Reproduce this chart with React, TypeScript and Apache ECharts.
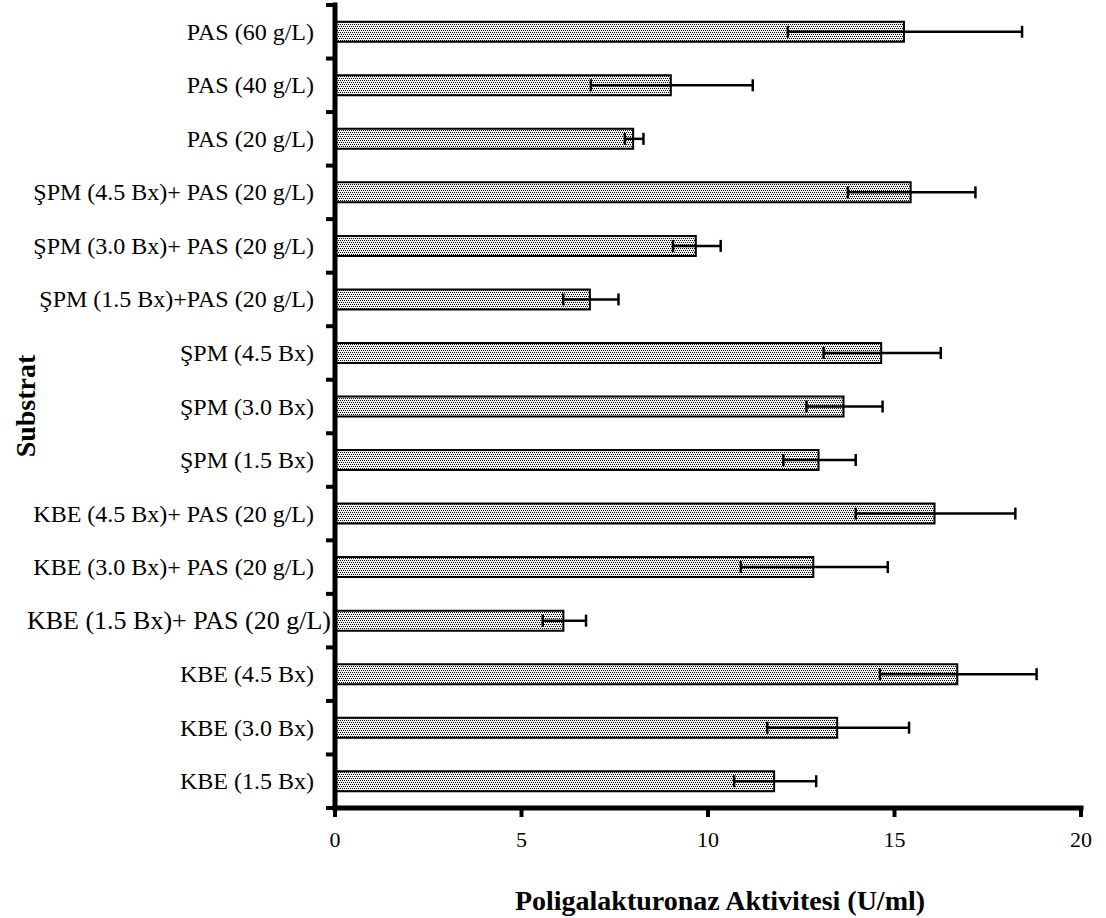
import React, { useEffect, useRef } from "react";
import * as echarts from "echarts";

// Substrate groups, listed bottom to top as drawn on the category axis
const categories = [
  "KBE (1.5 Bx)",
  "KBE (3.0 Bx)",
  "KBE (4.5 Bx)",
  "KBE (1.5 Bx)+ PAS (20 g/L)",
  "KBE (3.0 Bx)+ PAS (20 g/L)",
  "KBE (4.5 Bx)+ PAS (20 g/L)",
  "ŞPM (1.5 Bx)",
  "ŞPM (3.0 Bx)",
  "ŞPM (4.5 Bx)",
  "ŞPM (1.5 Bx)+PAS (20 g/L)",
  "ŞPM (3.0 Bx)+ PAS (20 g/L)",
  "ŞPM (4.5 Bx)+ PAS (20 g/L)",
  "PAS (20 g/L)",
  "PAS (40 g/L)",
  "PAS (60 g/L)",
];

// Mean polygalacturonase activity (U/ml)
const activity = [
  11.8, 13.49, 16.71, 6.15, 12.85, 16.1, 12.99, 13.66, 14.67, 6.86, 9.7, 15.46,
  8.02, 9.03, 15.28,
];

// Standard deviation of each mean
const deviation = [
  1.1, 1.9, 2.1, 0.58, 1.97, 2.14, 0.97, 1.02, 1.57, 0.74, 0.64, 1.71, 0.25,
  2.17, 3.14,
];

const xTicks = { min: 0, max: 20, interval: 5 };

const WIDE_LABEL = "KBE (1.5 Bx)+ PAS (20 g/L)";
const SERIF = "'Liberation Serif', 'Times New Roman', serif";

function makeDotPattern(): HTMLCanvasElement {
  const c = document.createElement("canvas");
  c.width = 4;
  c.height = 4;
  const ctx = c.getContext("2d")!;
  ctx.fillStyle = "#f2f2f2";
  ctx.fillRect(0, 0, 4, 4);
  ctx.fillStyle = "#000000";
  ctx.fillRect(0, 0, 1, 1);
  ctx.fillRect(2, 0, 1, 1);
  ctx.fillRect(1, 2, 1, 1);
  ctx.fillRect(3, 2, 1, 1);
  return c;
}

const AXIS_W = 5;
const TICK_W = 4;
const TICK_LEN = 9;

export default function App() {
  const ref = useRef<HTMLDivElement>(null);

  useEffect(() => {
    if (!ref.current) return;
    const chart = echarts.init(ref.current, undefined, { renderer: "svg" });

    const barData = activity.map((v) => v);
    const errData = activity.map((v, i) => [i, v, deviation[i]]);

    const titleElements: any[] = [
      {
        id: "xTitle",
        type: "text",
        x: 720,
        y: 900,
        style: {
          text: "Poligalakturonaz Aktivitesi (U/ml)",
          fontFamily: SERIF,
          fontSize: 28,
          fontWeight: "bold",
          fill: "#000",
          align: "center",
          verticalAlign: "middle",
        },
      },
      {
        id: "yTitle",
        type: "text",
        x: 25,
        y: 406,
        rotation: Math.PI / 2,
        style: {
          text: "Substrat",
          fontFamily: SERIF,
          fontSize: 28,
          fontWeight: "bold",
          fill: "#000",
          align: "center",
          verticalAlign: "middle",
        },
      },
    ];

    const option: any = {
      animation: false,
      backgroundColor: "#ffffff",
      grid: { left: 335, right: 25, top: 5, bottom: 110, containLabel: false },
      xAxis: {
        type: "value",
        min: xTicks.min,
        max: xTicks.max,
        interval: xTicks.interval,
        axisLine: { show: false },
        axisTick: { show: false },
        splitLine: { show: false },
        axisLabel: {
          color: "#000",
          fontFamily: SERIF,
          fontSize: 22,
          margin: 20,
        },
      },
      yAxis: {
        type: "category",
        data: categories,
        axisLine: { show: false },
        axisTick: { show: false },
        splitLine: { show: false },
        axisLabel: {
          margin: 4,
          color: "#000",
          fontFamily: SERIF,
          fontSize: 24,
          formatter: (v: string) => (v === WIDE_LABEL ? `{w|${v}}` : `{n|${v}}`),
          rich: {
            n: { fontFamily: SERIF, fontSize: 24, color: "#000", padding: [0, 17, 0, 0] },
            w: { fontFamily: SERIF, fontSize: 26, color: "#000", padding: [0, 0, 0, 0] },
          },
        },
      },
      series: [
        {
          type: "bar",
          data: barData,
          barWidth: 22,
          itemStyle: {
            color: {
              image: makeDotPattern(),
              repeat: "repeat",
              imageWidth: 4,
              imageHeight: 4,
            },
            borderColor: "#000",
            borderWidth: 2,
          },
          z: 2,
        },
        {
          type: "custom",
          data: errData,
          z: 5,
          renderItem: (_params: any, api: any) => {
            const idx = api.value(0);
            const mean = api.value(1);
            const sd = api.value(2);
            const lo = api.coord([mean - sd, idx]);
            const hi = api.coord([mean + sd, idx]);
            const y = lo[1];
            const half = 6;
            const style = { stroke: "#000", lineWidth: 2.5 };
            return {
              type: "group",
              children: [
                { type: "line", shape: { x1: lo[0], y1: y, x2: hi[0], y2: y }, style },
                { type: "line", shape: { x1: lo[0], y1: y - half, x2: lo[0], y2: y + half }, style },
                { type: "line", shape: { x1: hi[0], y1: y - half, x2: hi[0], y2: y + half }, style },
              ],
            };
          },
        },
      ],
      graphic: { elements: titleElements },
    };

    chart.setOption(option);

    // Axis lines and outward tick marks, placed through the axes' own scales
    const x0 = chart.convertToPixel({ xAxisIndex: 0 }, xTicks.min) as number;
    const x1 = chart.convertToPixel({ xAxisIndex: 0 }, xTicks.max) as number;
    const c0 = chart.convertToPixel({ yAxisIndex: 0 }, 0) as number;
    const c1 = chart.convertToPixel({ yAxisIndex: 0 }, 1) as number;
    const band = Math.abs(c0 - c1);
    const axisY = c0 + band / 2;
    const topY = axisY - categories.length * band;
    const ink = { stroke: "#000", lineWidth: AXIS_W, lineCap: "square" };
    const tickInk = { stroke: "#000", lineWidth: TICK_W };
    const axisEls: any[] = [
      { id: "yLine", type: "line", z: 20, shape: { x1: x0, y1: topY, x2: x0, y2: axisY }, style: ink },
      { id: "xLine", type: "line", z: 20, shape: { x1: x0, y1: axisY, x2: x1, y2: axisY }, style: ink },
    ];
    for (let v = xTicks.min; v <= xTicks.max; v += xTicks.interval) {
      const px = chart.convertToPixel({ xAxisIndex: 0 }, v) as number;
      axisEls.push({
        id: "xt" + v,
        type: "line",
        z: 21,
        shape: { x1: px, y1: axisY, x2: px, y2: axisY + TICK_LEN },
        style: tickInk,
      });
    }
    for (let i = 0; i <= categories.length; i++) {
      const py = axisY - i * band;
      axisEls.push({
        id: "yt" + i,
        type: "line",
        z: 21,
        shape: { x1: x0, y1: py, x2: x0 - TICK_LEN, y2: py },
        style: tickInk,
      });
    }
    chart.setOption({ graphic: { elements: [...titleElements, ...axisEls] } });

    return () => chart.dispose();
  }, []);

  return (
    <div
      ref={ref}
      style={{ position: "fixed", left: 0, top: 0, width: 1106, height: 918, background: "#fff" }}
    />
  );
}
